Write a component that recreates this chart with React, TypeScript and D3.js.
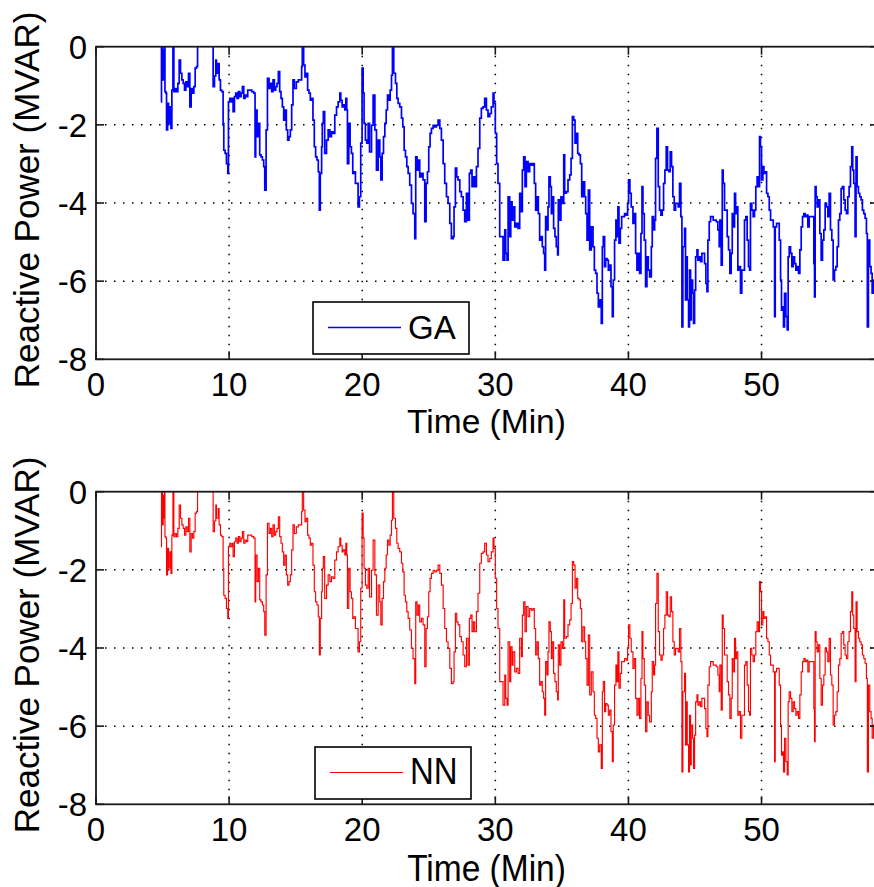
import React from "react";
import * as d3 from "d3";

// Reactive power samples: [time (min), reactive power (MVAR)]
const gaSamples: [number, number][] = [
  [4.88, -1.41], [4.92, 0.05], [5.0, -0.85], [5.05, -0.09], [5.1, -0.68], [5.15, 0.05],
  [5.18, -1.15], [5.25, -1.19], [5.3, -2.13], [5.38, -1.45], [5.45, -1.96], [5.55, -1.54],
  [5.63, -2.09], [5.7, -1.11], [5.78, 0.05], [5.85, -1.15], [5.95, -1.07], [6.05, -1.15],
  [6.15, -0.94], [6.25, -0.34], [6.35, -0.68], [6.45, -0.85], [6.55, -0.94], [6.65, -1.11],
  [6.75, -0.9], [6.85, -1.02], [6.95, -0.68], [7.05, -1.54], [7.15, -1.07], [7.25, -1.19],
  [7.35, -1.02], [7.45, -0.55], [7.55, -0.51], [7.63, 0.1], [7.9, 0.4], [8.2, 0.3],
  [8.5, 0.5], [8.8, -1.02], [8.9, -0.75], [9.0, -0.34], [9.05, -0.68], [9.18, -0.43],
  [9.25, -0.85], [9.35, -1.11], [9.45, -1.15], [9.55, -1.96], [9.6, -2.65], [9.7, -2.73],
  [9.8, -2.99], [9.9, -3.24], [9.95, -1.41], [10.05, -1.32], [10.15, -1.41], [10.25, -1.32],
  [10.3, -1.66], [10.4, -1.28], [10.5, -1.19], [10.6, -1.32], [10.7, -1.15], [10.8, -1.28],
  [10.9, -1.19], [11.0, -1.02], [11.1, -1.32], [11.2, -1.24], [11.3, -1.28], [11.4, -1.11],
  [11.55, -1.11], [11.7, -1.15], [11.85, -1.19], [11.95, -2.82], [12.0, -1.62], [12.1, -2.3],
  [12.2, -1.96], [12.3, -2.77], [12.4, -2.82], [12.5, -2.9], [12.6, -3.07], [12.68, -3.67],
  [12.78, -2.13], [12.88, -0.81], [13.0, -1.07], [13.1, -0.94], [13.2, -1.15], [13.3, -0.85],
  [13.4, -1.11], [13.5, -1.02], [13.6, -0.94], [13.7, -0.64], [13.8, -1.15], [13.9, -1.32],
  [14.0, -1.54], [14.1, -1.88], [14.2, -1.62], [14.3, -2.13], [14.4, -2.39], [14.5, -2.3],
  [14.6, -2.13], [14.7, -1.49], [14.8, -0.85], [14.9, -1.07], [15.05, -0.9], [15.2, -0.85],
  [15.35, -0.85], [15.45, -0.51], [15.5, 0.0], [15.6, -0.47], [15.7, -0.77], [15.8, -0.68],
  [15.9, -1.11], [16.0, -1.19], [16.1, -1.37], [16.2, -1.32], [16.3, -1.88], [16.4, -2.56],
  [16.5, -2.82], [16.6, -2.9], [16.7, -3.2], [16.78, -4.18], [16.85, -3.24], [16.95, -2.56],
  [17.0, -1.96], [17.08, -1.66], [17.18, -2.73], [17.32, -2.39], [17.44, -2.13], [17.57, -2.3],
  [17.69, -2.18], [17.82, -2.22], [17.94, -1.75], [18.07, -1.54], [18.19, -1.41], [18.32, -1.19],
  [18.39, -1.37], [18.49, -1.54], [18.57, -1.49], [18.69, -1.62], [18.77, -1.32], [18.84, -1.62],
  [18.89, -2.99], [18.99, -1.96], [19.09, -2.56], [19.19, -2.73], [19.29, -3.24], [19.39, -3.2],
  [19.49, -3.5], [19.59, -3.5], [19.69, -4.1], [19.79, -3.84], [19.89, -2.47], [19.99, -0.55],
  [20.07, -1.19], [20.14, -1.96], [20.24, -2.39], [20.34, -2.47], [20.45, -1.96], [20.55, -2.69],
  [20.7, -2.01], [20.82, -1.24], [20.95, -2.13], [21.07, -3.16], [21.2, -2.39], [21.32, -2.82],
  [21.4, -3.41], [21.5, -2.73], [21.6, -2.3], [21.7, -1.96], [21.8, -1.62], [21.9, -1.24],
  [22.0, -1.37], [22.1, -1.11], [22.2, -0.73], [22.27, 0.0], [22.37, -0.68], [22.5, -0.94],
  [22.6, -1.32], [22.7, -1.45], [22.82, -1.54], [22.95, -1.83], [23.05, -2.05], [23.15, -2.65],
  [23.25, -2.82], [23.35, -3.07], [23.45, -3.24], [23.57, -3.54], [23.7, -4.01], [23.82, -4.27],
  [23.95, -4.91], [24.02, -2.82], [24.12, -3.16], [24.22, -2.9], [24.32, -3.33], [24.45, -3.24],
  [24.57, -3.41], [24.7, -4.48], [24.8, -3.5], [24.9, -3.2], [25.0, -2.56], [25.1, -2.22],
  [25.2, -2.09], [25.33, -2.01], [25.45, -2.05], [25.58, -2.01], [25.7, -1.88], [25.83, -2.09],
  [25.95, -2.39], [26.08, -2.99], [26.2, -3.5], [26.33, -3.84], [26.45, -4.01], [26.58, -4.52],
  [26.7, -4.91], [26.83, -4.86], [26.9, -4.1], [27.0, -3.11], [27.1, -3.33], [27.2, -3.41],
  [27.33, -3.71], [27.45, -3.84], [27.58, -4.18], [27.7, -4.48], [27.83, -3.75], [27.95, -4.44],
  [28.05, -3.24], [28.15, -3.16], [28.25, -3.58], [28.35, -3.33], [28.45, -3.58], [28.58, -3.07],
  [28.7, -2.6], [28.83, -1.83], [28.95, -1.58], [29.08, -1.54], [29.2, -1.32], [29.33, -1.62],
  [29.45, -1.79], [29.58, -1.71], [29.7, -1.54], [29.83, -1.19], [29.9, -1.45], [30.0, -2.22],
  [30.1, -2.99], [30.2, -3.5], [30.33, -4.86], [30.46, -4.86], [30.58, -5.46], [30.71, -4.69],
  [30.78, -5.29], [30.88, -5.46], [30.96, -3.84], [31.08, -4.86], [31.16, -3.97], [31.26, -4.44],
  [31.33, -4.1], [31.46, -4.61], [31.58, -4.52], [31.71, -4.65], [31.83, -3.75], [31.96, -4.22],
  [32.03, -3.16], [32.13, -2.82], [32.23, -3.58], [32.33, -2.94], [32.46, -3.2], [32.58, -2.99],
  [32.71, -3.03], [32.83, -2.99], [32.93, -3.5], [33.03, -4.18], [33.13, -3.84], [33.23, -4.27],
  [33.33, -4.95], [33.43, -4.86], [33.53, -5.12], [33.63, -5.29], [33.71, -5.72], [33.78, -4.35],
  [33.88, -4.69], [33.96, -4.1], [34.03, -3.33], [34.13, -3.58], [34.21, -4.27], [34.28, -3.84],
  [34.38, -4.65], [34.48, -4.86], [34.58, -5.12], [34.68, -5.33], [34.73, -3.92], [34.83, -4.44],
  [34.93, -3.84], [35.04, -4.01], [35.14, -2.77], [35.21, -3.75], [35.34, -3.71], [35.46, -3.41],
  [35.59, -3.28], [35.69, -2.86], [35.79, -1.79], [35.89, -1.88], [35.99, -2.47], [36.09, -2.22],
  [36.19, -2.73], [36.29, -2.77], [36.39, -2.99], [36.49, -3.84], [36.59, -3.46], [36.71, -3.84],
  [36.79, -4.27], [36.89, -4.95], [36.99, -3.67], [37.09, -5.2], [37.21, -4.61], [37.34, -5.12],
  [37.44, -5.72], [37.54, -5.8], [37.64, -6.31], [37.74, -6.66], [37.84, -6.48], [37.96, -7.08],
  [38.04, -5.12], [38.11, -4.86], [38.21, -5.63], [38.29, -5.42], [38.39, -5.46], [38.49, -5.72],
  [38.59, -5.59], [38.69, -6.14], [38.79, -6.91], [38.86, -5.97], [38.96, -4.95], [39.06, -4.44],
  [39.14, -4.86], [39.21, -4.1], [39.29, -5.03], [39.39, -4.65], [39.49, -4.35], [39.59, -4.35],
  [39.71, -4.27], [39.84, -4.31], [39.94, -4.01], [40.01, -3.41], [40.11, -3.75], [40.21, -4.1],
  [40.34, -4.52], [40.44, -4.27], [40.54, -5.29], [40.64, -5.72], [40.74, -5.29], [40.84, -5.8],
  [40.94, -4.78], [41.02, -3.58], [41.09, -4.27], [41.19, -4.95], [41.29, -6.14], [41.39, -5.38],
  [41.49, -5.72], [41.59, -5.89], [41.72, -5.12], [41.79, -4.35], [41.89, -4.69], [41.97, -4.44],
  [42.04, -2.86], [42.14, -2.09], [42.24, -3.58], [42.34, -4.18], [42.44, -4.31], [42.54, -4.18],
  [42.64, -3.5], [42.74, -3.16], [42.84, -2.56], [42.94, -3.16], [43.04, -3.2], [43.14, -2.69],
  [43.24, -3.07], [43.34, -3.84], [43.44, -4.18], [43.54, -4.01], [43.64, -4.01], [43.74, -4.1],
  [43.84, -3.5], [43.94, -4.35], [44.02, -7.17], [44.09, -5.12], [44.22, -4.65], [44.29, -6.48],
  [44.37, -5.38], [44.42, -6.48], [44.52, -7.17], [44.59, -5.72], [44.67, -6.99], [44.72, -5.97],
  [44.82, -6.31], [44.89, -7.08], [44.97, -6.23], [45.05, -5.38], [45.15, -5.2], [45.22, -5.46],
  [45.32, -5.38], [45.42, -5.5], [45.52, -5.29], [45.62, -5.29], [45.72, -5.55], [45.82, -6.06],
  [45.9, -6.27], [45.97, -4.95], [46.07, -4.48], [46.17, -4.35], [46.27, -4.35], [46.37, -4.44],
  [46.47, -4.44], [46.6, -4.48], [46.72, -4.69], [46.82, -5.12], [46.87, -4.44], [46.97, -5.59],
  [47.05, -3.16], [47.12, -3.5], [47.22, -4.18], [47.32, -4.18], [47.42, -4.86], [47.52, -5.2],
  [47.62, -5.8], [47.72, -5.29], [47.8, -4.27], [47.87, -4.61], [47.97, -3.75], [48.05, -4.27],
  [48.12, -4.1], [48.22, -5.72], [48.32, -5.63], [48.42, -6.31], [48.52, -5.72], [48.62, -5.72],
  [48.72, -4.44], [48.82, -4.35], [48.92, -4.95], [49.02, -5.63], [49.1, -5.72], [49.17, -4.01],
  [49.27, -4.18], [49.37, -4.35], [49.47, -4.18], [49.57, -3.58], [49.67, -3.33], [49.77, -3.58],
  [49.85, -2.3], [49.92, -2.56], [50.0, -3.41], [50.1, -3.07], [50.18, -3.24], [50.28, -3.2],
  [50.38, -3.75], [50.48, -3.84], [50.58, -4.18], [50.68, -4.44], [50.78, -4.44], [50.88, -4.61],
  [50.98, -6.91], [51.03, -4.61], [51.13, -4.52], [51.23, -4.52], [51.33, -4.95], [51.43, -5.97],
  [51.5, -6.74], [51.58, -6.66], [51.65, -7.17], [51.73, -6.31], [51.83, -6.91], [51.93, -7.25],
  [52.0, -5.38], [52.08, -5.12], [52.18, -5.29], [52.28, -5.63], [52.38, -5.38], [52.48, -5.55],
  [52.58, -5.72], [52.68, -5.63], [52.78, -5.8], [52.88, -5.2], [52.98, -4.61], [53.08, -4.35],
  [53.18, -4.27], [53.28, -4.35], [53.38, -4.31], [53.48, -4.61], [53.58, -4.35], [53.68, -4.35],
  [53.8, -4.35], [53.88, -4.35], [53.93, -5.55], [53.98, -6.4], [54.03, -3.58], [54.1, -3.84],
  [54.18, -4.1], [54.28, -3.92], [54.38, -4.78], [54.48, -5.46], [54.58, -4.95], [54.68, -4.69],
  [54.78, -4.01], [54.88, -4.1], [54.98, -4.35], [55.08, -3.75], [55.18, -4.69], [55.28, -4.95],
  [55.38, -5.97], [55.48, -5.72], [55.58, -5.63], [55.68, -5.12], [55.78, -4.44], [55.88, -4.27],
  [55.98, -3.63], [56.08, -3.58], [56.18, -3.92], [56.28, -4.18], [56.38, -4.27], [56.48, -3.84],
  [56.58, -3.58], [56.68, -3.07], [56.78, -2.56], [56.85, -3.16], [56.93, -3.5], [57.03, -4.86],
  [57.1, -2.82], [57.18, -3.58], [57.28, -3.75], [57.38, -3.84], [57.48, -3.92], [57.58, -4.18],
  [57.68, -4.27], [57.78, -4.39], [57.88, -4.78], [57.95, -7.17], [58.03, -4.95], [58.13, -5.63],
  [58.23, -5.8], [58.31, -6.31], [58.41, -5.97], [58.6, -6.2],
];
// The NN curve is indistinguishable from the GA curve in the picture
const nnSamples: [number, number][] = gaSamples.map((d) => [d[0], d[1]] as [number, number]);

const xTicks = [0, 10, 20, 30, 40, 50];
const yTicks = [0, -2, -4, -6, -8];
const xGrid = [10, 20, 30, 40, 50];
const yGrid = [-2, -4, -6];

const W = 874;
const H = 887;
const FONT = "'Liberation Sans', Arial, Helvetica, sans-serif";
const plotLeft = 96;
const plotRight = 878;
const plotH = 312.6;

const panels = [
  { id: "ga", top: 46.7, data: gaSamples, color: "#0000ff", width: 1.7, name: "GA", legendX: 313, legendY: 302, xLabelY: 433, textScaleY: 1 },
  { id: "nn", top: 491.7, data: nnSamples, color: "#ff0000", width: 1.15, name: "NN", legendX: 315, legendY: 747, xLabelY: 881, textScaleY: 1.1 },
];

function Panel({ p }: { p: (typeof panels)[number] }) {
  const x = d3.scaleLinear().domain([0, 58.75]).range([plotLeft, plotRight]);
  const y = d3.scaleLinear().domain([-8, 0]).range([p.top + plotH, p.top]);
  const line = d3
    .line<[number, number]>()
    .x((d) => x(d[0]))
    .y((d) => y(d[1]))
    .curve(d3.curveStepAfter);
  const bottom = p.top + plotH;
  const clipId = `clip-${p.id}`;
  const axisColor = "#1a1a1a";
  const tickLen = 8;
  return (
    <g>
      <defs>
        <clipPath id={clipId}>
          <rect x={plotLeft} y={p.top} width={plotRight - plotLeft} height={plotH} />
        </clipPath>
      </defs>
      <rect x={plotLeft} y={p.top} width={plotRight - plotLeft} height={plotH} fill="#fff" />
      {xGrid.map((t) => (
        <line key={"gx" + t} x1={x(t)} x2={x(t)} y1={p.top} y2={bottom} stroke="#000" strokeWidth={1.5} strokeDasharray="1.5 7.5" />
      ))}
      {yGrid.map((v) => (
        <line key={"gy" + v} x1={plotLeft} x2={plotRight} y1={y(v)} y2={y(v)} stroke="#000" strokeWidth={1.5} strokeDasharray="1.5 7.5" />
      ))}
      <path d={line(p.data) || ""} fill="none" stroke={p.color} strokeWidth={p.width} clipPath={`url(#${clipId})`} />
      {xTicks.map((t) => (
        <g key={"tx" + t}>
          <line x1={x(t)} x2={x(t)} y1={bottom} y2={bottom - tickLen} stroke={axisColor} strokeWidth={1.6} />
          <line x1={x(t)} x2={x(t)} y1={p.top} y2={p.top + tickLen} stroke={axisColor} strokeWidth={1.6} />
        </g>
      ))}
      {yTicks.map((v) => (
        <g key={"ty" + v}>
          <line x1={plotLeft} x2={plotLeft + tickLen} y1={y(v)} y2={y(v)} stroke={axisColor} strokeWidth={1.6} />
          <line x1={plotRight} x2={plotRight - tickLen} y1={y(v)} y2={y(v)} stroke={axisColor} strokeWidth={1.6} />
        </g>
      ))}
      <rect x={plotLeft} y={p.top} width={plotRight - plotLeft} height={plotH} fill="none" stroke={axisColor} strokeWidth={1.8} />
      {xTicks.map((t) => (
        <text key={"lx" + t} x={x(t)} y={bottom + 37} textAnchor="middle" fontSize={33} fontFamily={FONT} fill="#000">
          {t}
        </text>
      ))}
      {yTicks.map((v) => (
        <text key={"ly" + v} x={plotLeft - 9} y={y(v)} dy="0.36em" textAnchor="end" fontSize={33} fontFamily={FONT} fill="#000">
          {v}
        </text>
      ))}
      <text
        transform={`translate(39,${p.top + plotH / 2 - 3}) rotate(-90)`}
        textAnchor="middle"
        fontSize={35}
        fontFamily={FONT}
        fill="#000"
      >
        Reactive Power (MVAR)
      </text>
      <text
        transform={`translate(${(plotLeft + plotRight) / 2 - 0.5},${p.xLabelY}) scale(1,${p.textScaleY})`}
        textAnchor="middle"
        fontSize={33.5}
        fontFamily={FONT}
        fill="#000"
      >
        Time (Min)
      </text>
      <g transform={`translate(${p.legendX},${p.legendY})`}>
        <rect x={0} y={0} width={156} height={52} fill="#fff" stroke="#000" strokeWidth={1.6} />
        <line x1={15} x2={88} y1={25.5} y2={25.5} stroke={p.color} strokeWidth={p.width} />
        <text transform={`translate(95,36.5) scale(1,${p.textScaleY})`} fontSize={33} fontFamily={FONT} fill="#000">
          {p.name}
        </text>
      </g>
    </g>
  );
}

export default function App() {
  return (
    <svg
      width={W}
      height={H}
      viewBox={`0 0 ${W} ${H}`}
      style={{ position: "absolute", left: 0, top: 0, background: "#fff" }}
    >
      <rect x={0} y={0} width={W} height={H} fill="#fff" />
      {panels.map((p) => (
        <Panel key={p.id} p={p} />
      ))}
    </svg>
  );
}
